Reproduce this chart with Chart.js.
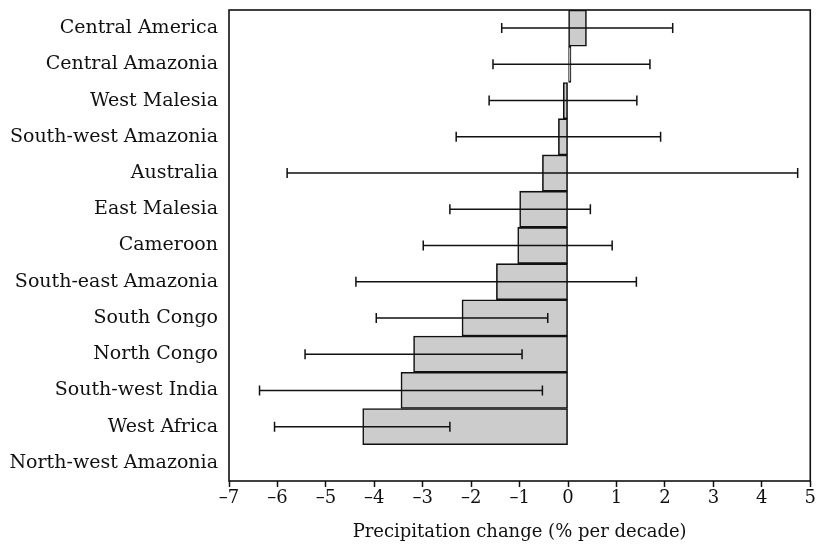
<!DOCTYPE html>
<html>
<head>
<meta charset="utf-8">
<script src="https://cdn.jsdelivr.net/npm/chart.js@4/dist/chart.umd.min.js"></script>
<style>
  html, body { margin: 0; padding: 0; background: #fff; }
  #wrap { width: 817px; height: 547px; }
</style>
</head>
<body>
<div id="wrap"><canvas id="chart" width="817" height="547"></canvas></div>
<script>
const regions = ['Central America', 'Central Amazonia', 'West Malesia', 'South-west Amazonia',
  'Australia', 'East Malesia', 'Cameroon', 'South-east Amazonia', 'South Congo',
  'North Congo', 'South-west India', 'West Africa', 'North-west Amazonia'];
const change = [0.38, 0.06, -0.10, -0.20, -0.53, -1.00, -1.04, -1.48, -2.19, -3.19, -3.45, -4.24, null];
const errLow = [-1.37, -1.55, -1.63, -2.31, -5.80, -2.44, -2.99, -4.38, -3.96, -5.43, -6.37, -6.06, null];
const errHigh = [2.16, 1.69, 1.42, 1.91, 4.74, 0.46, 0.91, 1.41, -0.42, -0.95, -0.53, -2.44, null];
const xMin = -7, xMax = 5;

const serif = '"DejaVu Serif", serif';

// error bars + frame
const errorBars = {
  id: 'errorBars',
  afterDatasetsDraw(chart) {
    const ctx = chart.ctx, x = chart.scales.x, y = chart.scales.y;
    ctx.save();
    ctx.strokeStyle = '#111';
    ctx.lineWidth = 1.5;
    regions.forEach((r, i) => {
      if (errLow[i] == null) return;
      const yy = y.getPixelForValue(i);
      const x1 = x.getPixelForValue(errLow[i]), x2 = x.getPixelForValue(errHigh[i]);
      ctx.beginPath();
      ctx.moveTo(x1, yy); ctx.lineTo(x2, yy);
      ctx.moveTo(x1, yy - 5); ctx.lineTo(x1, yy + 5);
      ctx.moveTo(x2, yy - 5); ctx.lineTo(x2, yy + 5);
      ctx.stroke();
    });
    const a = chart.chartArea;
    ctx.lineWidth = 1.6;
    ctx.strokeRect(a.left, a.top, a.right - a.left, a.bottom - a.top);
    ctx.restore();
  }
};

new Chart(document.getElementById('chart'), {
  type: 'bar',
  data: {
    labels: regions,
    datasets: [{
      data: change,
      backgroundColor: '#cccccc',
      borderColor: '#111',
      borderWidth: 1.6,
      borderSkipped: false,
      barPercentage: 1,
      categoryPercentage: 1
    }]
  },
  options: {
    indexAxis: 'y',
    responsive: false,
    animation: false,
    layout: { padding: { top: 10, right: 1 } },
    plugins: { legend: { display: false }, tooltip: { enabled: false } },
    scales: {
      x: {
        min: xMin, max: xMax,
        ticks: {
          stepSize: 1, color: '#111', padding: 1,
          font: { family: serif, size: 18 },
          callback: v => String(v).replace('-', '–')
        },
        grid: { drawOnChartArea: false, tickLength: 6, color: '#111', tickWidth: 1.5 },
        border: { display: false },
        title: { display: true, text: 'Precipitation change (% per decade)', color: '#111',
          font: { family: serif, size: 18 }, padding: { top: 0 } },
        afterFit(s) { s.height = 66; }
      },
      y: {
        ticks: { color: '#111', padding: 11, font: { family: serif, size: 19 } },
        grid: { display: false, drawTicks: false },
        border: { display: false },
        afterFit(s) { s.width = 229; s.paddingTop = 0; s.paddingBottom = 0; }
      }
    }
  },
  plugins: [errorBars]
});
</script>
</body>
</html>
